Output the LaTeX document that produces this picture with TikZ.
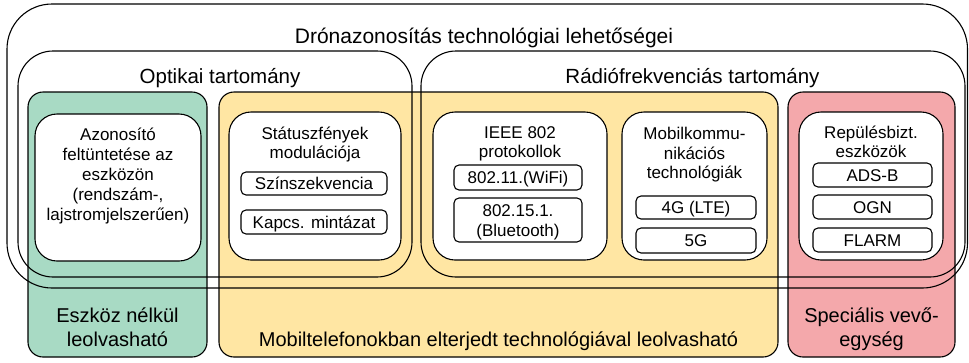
\documentclass[tikz,border=0pt]{standalone}
\usepackage{fontspec}
\setmainfont{Liberation Sans}
\definecolor{cgreen}{RGB}{168,218,196}
\definecolor{cyellow}{RGB}{255,230,163}
\definecolor{cred}{RGB}{244,168,171}
\begin{document}
\begin{tikzpicture}[x=1pt,y=-1pt,
  box/.style={draw=black, line width=1.1pt, rounded corners=#1, inner sep=0pt, outer sep=0pt},
  group/.style={box=15, minimum height=265pt},
  whitebox/.style={box=22, fill=white},
  smallbox/.style={box=5, fill=white},
  big/.style={font=\fontsize{21}{24}\selectfont, inner sep=0pt, anchor=base},
  region/.style={font=\fontsize{20.5}{24}\selectfont, inner sep=0pt, anchor=base},
  bottom/.style={font=\fontsize{20}{24}\selectfont, inner sep=0pt, anchor=base},
  txt/.style={font=\fontsize{17}{20}\selectfont, inner sep=0pt, anchor=base}]
\useasboundingbox (0,0) rectangle (969,362);
\fill[white] (0,0) rectangle (969,362);
% coloured groups
\node[group, fill=cgreen, minimum width=179pt] (green) at (117.5,224.5) {};
\node[group, fill=cyellow, minimum width=559pt] (yellow) at (498.5,224.5) {};
\node[group, fill=cred, minimum width=167pt] (red) at (871.5,224.5) {};
% outline regions
\node[box=45, minimum width=960.5pt, minimum height=284pt] (outer) at (487.25,146) {};
\node[box=35, minimum width=394pt, minimum height=226pt] (opt) at (215,164) {};
\node[box=35, minimum width=544pt, minimum height=226pt] (radio) at (693,164) {};
% white boxes
\node[whitebox, minimum width=166pt, minimum height=147pt] (az) at (118,187.5) {};
\node[whitebox, minimum width=172pt, minimum height=148pt] (stat) at (315,186) {};
\node[whitebox, minimum width=174pt, minimum height=148pt] (ieee) at (520,186) {};
\node[whitebox, minimum width=145pt, minimum height=148pt] (mob) at (694.5,186) {};
\node[whitebox, minimum width=144pt, minimum height=148pt] (rep) at (871,186) {};
% small boxes
\node[smallbox, minimum width=146pt, minimum height=23pt] (szin) at (314,183.5) {};
\node[smallbox, minimum width=146pt, minimum height=24pt] (kapcs) at (314,222) {};
\node[smallbox, minimum width=128pt, minimum height=25pt] (wifi) at (518,177.5) {};
\node[smallbox, minimum width=128pt, minimum height=44pt] (bt) at (518,220) {};
\node[smallbox, minimum width=120pt, minimum height=23pt] (g4) at (696,207.5) {};
\node[smallbox, minimum width=120pt, minimum height=25pt] (g5) at (696,240.5) {};
\node[smallbox, minimum width=119pt, minimum height=24pt] (adsb) at (872.5,175) {};
\node[smallbox, minimum width=119pt, minimum height=24pt] (ogn) at (872.5,207) {};
\node[smallbox, minimum width=119pt, minimum height=24pt] (flarm) at (872.5,240) {};
% titles
\node[big] (title) at (484,43) {Drónazonosítás technológiai lehetőségei};
\node[region] (optt) at (220,83.5) {Optikai tartomány};
\node[region] (radiot) at (692.5,83.5) {Rádiófrekvenciás tartomány};
% Azonosító
\node[txt] (az1) at (118,140) {Azonosító};
\node[txt] (az2) at (118,160) {feltüntetése az};
\node[txt] (az3) at (118,180) {eszközön};
\node[txt] (az4) at (118,200) {(rendszám-,};
\node[txt] (az5) at (118,220) {lajstromjelszerűen)};
% Státusz
\node[txt] (st1) at (315,139) {Státuszfények};
\node[txt] (st2) at (315,158) {modulációja};
\node[txt] (szint) at (314,189.5) {Színszekvencia};
\node[txt] (kapcst) at (314,228) {Kapcs. mintázat};
% IEEE
\node[txt] (ie1) at (520,138.5) {IEEE 802};
\node[txt] (ie2) at (520,157.5) {protokollok};
\node[txt] (wifit) at (518,183.5) {802.11.(WiFi)};
\node[txt] (bt1) at (518,216.5) {802.15.1.};
\node[txt] (bt2) at (518,236.5) {(Bluetooth)};
% Mobil
\node[txt] (mo1) at (694.5,139.5) {Mobilkommu-};
\node[txt] (mo2) at (694.5,159) {nikációs};
\node[txt] (mo3) at (694.5,178) {technológiák};
\node[txt] (g4t) at (696,213.5) {4G (LTE)};
\node[txt] (g5t) at (696,246.5) {5G};
% Repülés
\node[txt] (re1) at (871,138.5) {Repülésbizt.};
\node[txt] (re2) at (871,157.5) {eszközök};
\node[txt] (adsbt) at (872.5,181) {ADS-B};
\node[txt] (ognt) at (872.5,213) {OGN};
\node[txt] (flarmt) at (872.5,246) {FLARM};
% bottom labels
\node[bottom] (gr1) at (117.5,322) {Eszköz nélkül};
\node[bottom] (gr2) at (117.5,346) {leolvasható};
\node[bottom] (ye1) at (498.5,346) {Mobiltelefonokban elterjedt technológiával leolvasható};
\node[bottom] (rd1) at (871.5,322) {Speciális vevő-};
\node[bottom] (rd2) at (871.5,346) {egység};
\end{tikzpicture}
\end{document}
